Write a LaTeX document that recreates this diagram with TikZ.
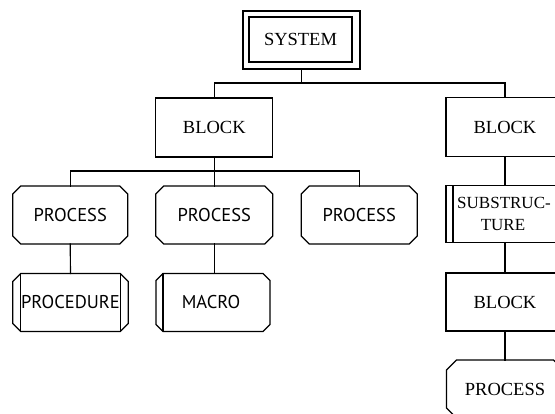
\documentclass[tikz,border=0pt]{standalone}
\usepackage{fontspec}
\setmainfont{Liberation Serif}
\newfontfamily\procfont{PT Sans}
\usetikzlibrary{calc}

\tikzset{
  x=1pt, y=-1pt,
  every node/.style={inner sep=0pt, outer sep=0pt},
  link/.style={line width=1.15pt, line cap=rect},
  blockbox/.style={draw, line width=1.15pt, rectangle, font=\fontsize{18.5}{22}\selectfont, align=center},
  procbox/.style={rectangle, font=\procfont\fontsize{18.5}{22}\selectfont},
  serifproc/.style={rectangle, font=\fontsize{18.5}{22}\selectfont},
}

% outline with cut corners around node #2, corner cut #1
\newcommand\cutframe[2][8]{%
  \draw[link, line cap=butt]
    ($(#2.north west)+(#1,0)$) -- ($(#2.north east)+(-#1,0)$) --
    ($(#2.north east)+(0,#1)$) -- ($(#2.south east)+(0,-#1)$) --
    ($(#2.south east)+(-#1,0)$) -- ($(#2.south west)+(#1,0)$) --
    ($(#2.south west)+(0,-#1)$) -- ($(#2.north west)+(0,#1)$) -- cycle;}
% vertical inner rule at distance #1 from the left or right side
\newcommand\leftrule[2][8]{%
  \draw[link, line cap=butt] ($(#2.north west)+(#1,0)$) -- ($(#2.south west)+(#1,0)$);}
\newcommand\rightrule[2][8]{%
  \draw[link, line cap=butt] ($(#2.north east)+(-#1,0)$) -- ($(#2.south east)+(-#1,0)$);}

\begin{document}
\begin{tikzpicture}
\useasboundingbox (0,0) rectangle (555,414);
\clip (0,0) rectangle (555,414);

% top level
\node[blockbox, minimum width=117pt, minimum height=58pt] (sys) at (301.5,40) {};
\node[blockbox, minimum width=103pt, minimum height=45pt] (sysin) at (300.5,39.5) {SYSTEM};

% second level
\node[blockbox, minimum width=117pt, minimum height=59pt] (blockL) at (214.3,127.5) {BLOCK};
\node[blockbox, minimum width=118pt, minimum height=59pt] (blockR) at (505,127) {BLOCK};

% third level
\node[procbox, minimum width=115pt, minimum height=58pt] (p1) at (70.2,215) {PROCESS};
\node[procbox, minimum width=117pt, minimum height=58pt] (p2) at (214.3,215) {PROCESS};
\node[procbox, minimum width=116pt, minimum height=58pt] (p3) at (359.2,215) {PROCESS};
\node[blockbox, minimum width=118pt, minimum height=57pt, font=\fontsize{17}{22}\selectfont] (sub) at (505,214)
  {\hspace*{-2pt}SUBSTRUC-\\\hspace*{-4pt}TURE};
\cutframe{p1}
\cutframe{p2}
\cutframe{p3}
\leftrule[7]{sub}

% fourth level
\node[procbox, minimum width=115.6pt, minimum height=58pt] (proc) at (70.5,302.5) {PROCEDURE};
\node[procbox, minimum width=114pt, minimum height=58pt] (macro) at (213,302.5) {\hspace*{-4pt}MACRO};
\node[blockbox, minimum width=118pt, minimum height=58pt] (blockR2) at (505,302) {BLOCK};
\cutframe{proc}
\leftrule{proc}
\rightrule[7.6]{proc}
\cutframe[7]{macro}
\leftrule[7]{macro}

% fifth level
\node[serifproc, minimum width=117pt, minimum height=58pt] (p4) at (505,389) {PROCESS};
\cutframe[10]{p4}

% connectors
\coordinate (j1) at (sys.south |- 0,83);
\coordinate (j2) at (214.3,171);
\draw[link] (sys.south) -- (j1);
\draw[link] (blockL.north) |- (j1) -| (blockR.north);
\draw[link] (blockL.south) -- (p2.north);
\draw[link] (p1.north) |- (j2) -| (p3.north);
\draw[link] (p1.south) -- (proc.north);
\draw[link] (p2.south) -- (p2.south |- macro.north);
\draw[link] (blockR.south) -- (sub.north);
\draw[link] (sub.south) -- (blockR2.north);
\draw[link] (blockR2.south) -- (p4.north);
\end{tikzpicture}
\end{document}
